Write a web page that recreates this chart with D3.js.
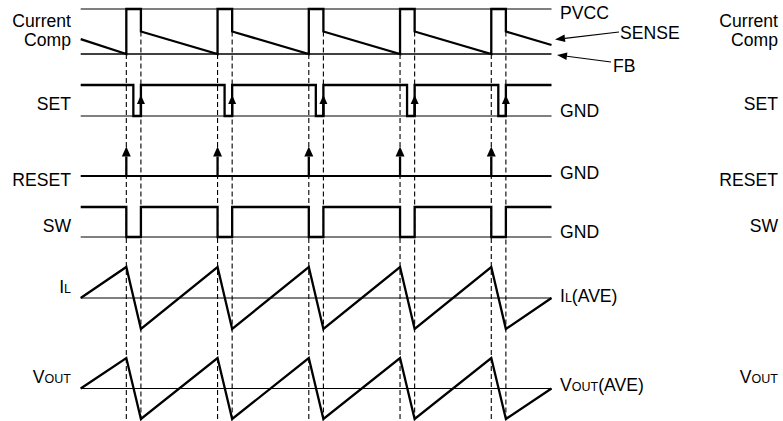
<!DOCTYPE html>
<html>
<head>
<meta charset="utf-8">
<script src="https://cdn.jsdelivr.net/npm/d3@7"></script>
<style>
    body { margin: 0; background: #fff; }
    svg { display: block; }
    text { font-family: "Liberation Sans", Arial, sans-serif; font-size: 17.6px; fill: #000; }
</style>
</head>
<body>
<svg id="timing" width="783" height="421"></svg>
<script>
// time axis: one switching period = 1 unit
const timeDomain = [0.5, 5.66];
const tripTimes = [1, 2, 3, 4, 5];                      // comparator trips / RESET pulse / SW goes low
const setRiseTimes = [1.16, 2.16, 3.16, 4.16, 5.16];    // SET edge / SW back high

// Current comparator: SENSE ramp and output pulse (0 = FB, 1 = PVCC)
const compWave = [[0.5, 0.33], [1, 0], [1, 1], [1.16, 1], [1.16, 0.5],
    [2, 0], [2, 1], [2.16, 1], [2.16, 0.5],
    [3, 0], [3, 1], [3.16, 1], [3.16, 0.5],
    [4, 0], [4, 1], [4.16, 1], [4.16, 0.5],
    [5, 0], [5, 1], [5.16, 1], [5.16, 0.5], [5.66, 0.2]];

// SET (1 = high, 0 = GND)
const setWave = [[0.5, 1], [1.077, 1], [1.077, 0], [1.16, 0], [1.16, 1],
    [2.077, 1], [2.077, 0], [2.16, 0], [2.16, 1],
    [3.077, 1], [3.077, 0], [3.16, 0], [3.16, 1],
    [4.077, 1], [4.077, 0], [4.16, 0], [4.16, 1],
    [5.077, 1], [5.077, 0], [5.16, 0], [5.16, 1], [5.66, 1]];
const setArrowLevel = 0.68;

// SW (1 = high, 0 = GND)
const swWave = [[0.5, 1], [1, 1], [1, 0], [1.16, 0], [1.16, 1],
    [2, 1], [2, 0], [2.16, 0], [2.16, 1],
    [3, 1], [3, 0], [3.16, 0], [3.16, 1],
    [4, 1], [4, 0], [4.16, 0], [4.16, 1],
    [5, 1], [5, 0], [5.16, 0], [5.16, 1], [5.66, 1]];

// Inductor current and output voltage around their averages
const ilWave = [[0.5, 0], [1, 1], [1.16, -1], [2, 1], [2.16, -1], [3, 1], [3.16, -1],
    [4, 1], [4.16, -1], [5, 1], [5.16, -1], [5.66, 0]];
const voutWave = [[0.5, 0], [1, 1], [1.16, -1], [2, 1], [2.16, -1], [3, 1], [3.16, -1],
    [4, 1], [4.16, -1], [5, 1], [5.16, -1], [5.66, 0]];

let svg = d3.select("#timing");

let x = d3.scaleLinear().domain(timeDomain).range([80.7, 551.5]);
let yComp = d3.scaleLinear().domain([0, 1]).range([54, 9]);
let ySet = d3.scaleLinear().domain([0, 1]).range([116, 85]);
let yReset = d3.scaleLinear().domain([0, 1]).range([176, 146.5]);
let ySw = d3.scaleLinear().domain([0, 1]).range([237, 207]);
let yIl = d3.scaleLinear().domain([-1, 1]).range([329, 267]);
let yVout = d3.scaleLinear().domain([-1, 1]).range([419, 358]);

//Add the dashed timing guides
svg.append("g").selectAll("line")
    .data(tripTimes.map(t => [t, yComp(0)]).concat(setRiseTimes.map(t => [t, yComp(0.5)])))
    .enter().append("line")
    .attr("x1", d => x(d[0])).attr("x2", d => x(d[0]))
    .attr("y1", d => d[1]).attr("y2", 421)
    .attr("stroke", "#000").attr("stroke-width", 1.1)
    .attr("stroke-dasharray", "5,3");

//Add the reference levels
let refs = [
    {y: yComp(1), w: 1}, {y: yComp(0), w: 1.6},
    {y: ySet(0), w: 1}, {y: yReset(0), w: 2.2},
    {y: ySw(0), w: 1}, {y: yIl(0), w: 1}, {y: yVout(0), w: 1}
];
svg.append("g").selectAll("line")
    .data(refs)
    .enter().append("line")
    .attr("x1", x(timeDomain[0])).attr("x2", x(timeDomain[1]))
    .attr("y1", d => d.y).attr("y2", d => d.y)
    .attr("stroke", "#000").attr("stroke-width", d => d.w);

//Add the waveforms
let waves = [[compWave, yComp], [setWave, ySet], [swWave, ySw], [ilWave, yIl], [voutWave, yVout]];
svg.append("g").selectAll("path")
    .data(waves)
    .enter().append("path")
    .attr("d", d => d3.line().x(p => x(p[0])).y(p => d[1](p[1]))(d[0]))
    .attr("fill", "none").attr("stroke", "#000")
    .attr("stroke-width", 2.3).attr("stroke-linejoin", "miter");

//Add the vertical event arrows
function arrow(g, x1, y1, x2, y2, len, half, w)
{
    let a = Math.atan2(y2 - y1, x2 - x1),
        bx = x2 - len * Math.cos(a), by = y2 - len * Math.sin(a);
    g.append("line")
        .attr("x1", x1).attr("y1", y1).attr("x2", bx).attr("y2", by)
        .attr("stroke", "#000").attr("stroke-width", w);
    g.append("path")
        .attr("d", "M" + x2 + "," + y2 +
            "L" + (bx + half * Math.sin(a)) + "," + (by - half * Math.cos(a)) +
            "L" + (bx - half * Math.sin(a)) + "," + (by + half * Math.cos(a)) + "Z")
        .attr("fill", "#000");
}
let arrows = svg.append("g");
setRiseTimes.forEach(t => arrow(arrows, x(t), ySet(0), x(t), ySet(setArrowLevel), 9, 4, 2.3));
tripTimes.forEach(t => arrow(arrows, x(t), yReset(0), x(t), yReset(1), 10, 4.5, 2.3));

//Add the SENSE and FB pointers
arrow(arrows, 619, 32, 555, 39.5, 10, 3.8, 1.1);
arrow(arrows, 611, 62, 557, 55, 10, 3.8, 1.1);

//Add the signal names
let leftLabels = [
    {t: "Current", y: 27}, {t: "Comp", y: 46}, {t: "SET", y: 110},
    {t: "RESET", y: 186}, {t: "SW", y: 232}
];
svg.append("g").selectAll("text")
    .data(leftLabels.concat(leftLabels.map(d => ({t: d.t, y: d.y, ghost: true}))))
    .enter().append("text")
    .attr("x", d => d.ghost ? 778 : 71).attr("y", d => d.y)
    .attr("text-anchor", "end")
    .text(d => d.t);

function subLabel(xp, yp, big, small, rest, anchor)
{
    let t = svg.append("text").attr("x", xp).attr("y", yp).attr("text-anchor", anchor);
    t.append("tspan").text(big);
    t.append("tspan").style("font-size", "12.5px").text(small);
    if (rest) t.append("tspan").text(rest);
}
subLabel(71, 293, "I", "L", null, "end");
subLabel(71, 383, "V", "OUT", null, "end");
subLabel(778, 383, "V", "OUT", null, "end");
subLabel(560, 302, "I", "L", "(AVE)", "start");
subLabel(560, 391, "V", "OUT", "(AVE)", "start");

let rightLabels = [
    {t: "PVCC", x: 560, y: 19}, {t: "SENSE", x: 620, y: 39}, {t: "FB", x: 613, y: 72},
    {t: "GND", x: 560, y: 117}, {t: "GND", x: 560, y: 179}, {t: "GND", x: 560, y: 238}
];
svg.append("g").selectAll("text")
    .data(rightLabels)
    .enter().append("text")
    .attr("x", d => d.x).attr("y", d => d.y)
    .text(d => d.t);
</script>
</body>
</html>
